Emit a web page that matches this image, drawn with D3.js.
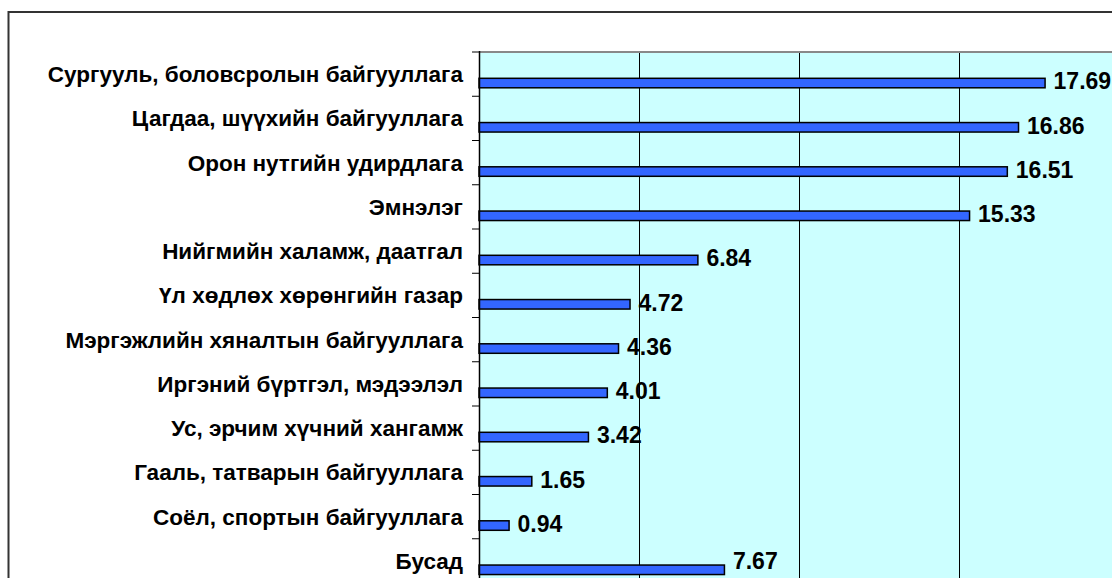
<!DOCTYPE html>
<html><head><meta charset="utf-8">
<script src="https://cdn.jsdelivr.net/npm/d3@7"></script>
<style>html,body{margin:0;padding:0;background:#fff;overflow:hidden}</style>
</head><body>
<svg id="c" width="1112" height="578"></svg>
<script>
const categories = [
  "Сургууль, боловсролын байгууллага",
  "Цагдаа, шүүхийн байгууллага",
  "Орон нутгийн удирдлага",
  "Эмнэлэг",
  "Нийгмийн халамж, даатгал",
  "Үл хөдлөх хөрөнгийн газар",
  "Мэргэжлийн хяналтын байгууллага",
  "Иргэний бүртгэл, мэдээлэл",
  "Ус, эрчим хүчний хангамж",
  "Гааль, татварын байгууллага",
  "Соёл, спортын байгууллага",
  "Бусад"
];
const values = [17.69, 16.86, 16.51, 15.33, 6.84, 4.72, 4.36, 4.01, 3.42, 1.65, 0.94, 7.67];
const gridTicks = [5, 10, 15];

const svg = d3.select("#c");
const font = "'Liberation Sans', Arial, sans-serif";
const x = d3.scaleLinear().domain([0, 20]).range([479, 1119]);
const y = d3.scaleBand().domain(categories).range([52, 583]).padding(0);

// outer frame
svg.append("rect").attr("x", 8.5).attr("y", 12).attr("width", 1200).attr("height", 700)
  .attr("fill", "#fff").attr("stroke", "#333").attr("stroke-width", 2);

// plot area
svg.append("rect").attr("x", x(0)).attr("y", 52).attr("width", x(20) - x(0)).attr("height", 583 - 52)
  .attr("fill", "#CCFFFF");
svg.append("line").attr("x1", x(0)).attr("x2", 1112).attr("y1", 52).attr("y2", 52)
  .attr("stroke", "#888").attr("stroke-width", 2);

// grid
svg.append("g").selectAll("line").data(gridTicks).join("line")
  .attr("x1", d => Math.round(x(d)) + 0.5).attr("x2", d => Math.round(x(d)) + 0.5)
  .attr("y1", 53).attr("y2", 583).attr("stroke", "#000").attr("stroke-width", 1);

// bars
svg.append("g").selectAll("rect").data(values).join("rect")
  .attr("x", x(0)).attr("y", (d, i) => y(categories[i]) + 26.3)
  .attr("width", d => x(d) - x(0)).attr("height", 9.5)
  .attr("fill", "#3366FF").attr("stroke", "#000").attr("stroke-width", 1.5);

// value labels (kept inside the visible area)
svg.append("g").selectAll("text").data(values).join("text")
  .attr("x", d => x(d) + 8.5).attr("y", (d, i) => Math.min(y(categories[i]) + 29, 560.5))
  .attr("dy", "0.36em")
  .attr("font-family", font).attr("font-weight", "bold").attr("font-size", 23)
  .attr("fill", "#000")
  .text(d => d.toFixed(2));

// y axis
const yAxis = d3.axisLeft(y).tickSize(0).tickPadding(16).tickFormat(d => d);
const ag = svg.append("g").attr("transform", `translate(${x(0)},0)`).call(yAxis);
ag.select(".domain").remove();
ag.selectAll("text").attr("font-family", font).attr("font-weight", "bold").attr("font-size", 22.5).attr("fill", "#000")
  .attr("dy", "0.35em");
svg.append("line").attr("x1", x(0) + 0.5).attr("x2", x(0) + 0.5).attr("y1", 51).attr("y2", 583)
  .attr("stroke", "#000").attr("stroke-width", 1.5);
const bounds = categories.map(c => y(c)).concat([583]);
svg.append("g").selectAll("line").data(bounds).join("line")
  .attr("x1", x(0) - 7).attr("x2", x(0)).attr("y1", d => d).attr("y2", d => d)
  .attr("stroke", "#000").attr("stroke-width", 1);
</script>
</body></html>
